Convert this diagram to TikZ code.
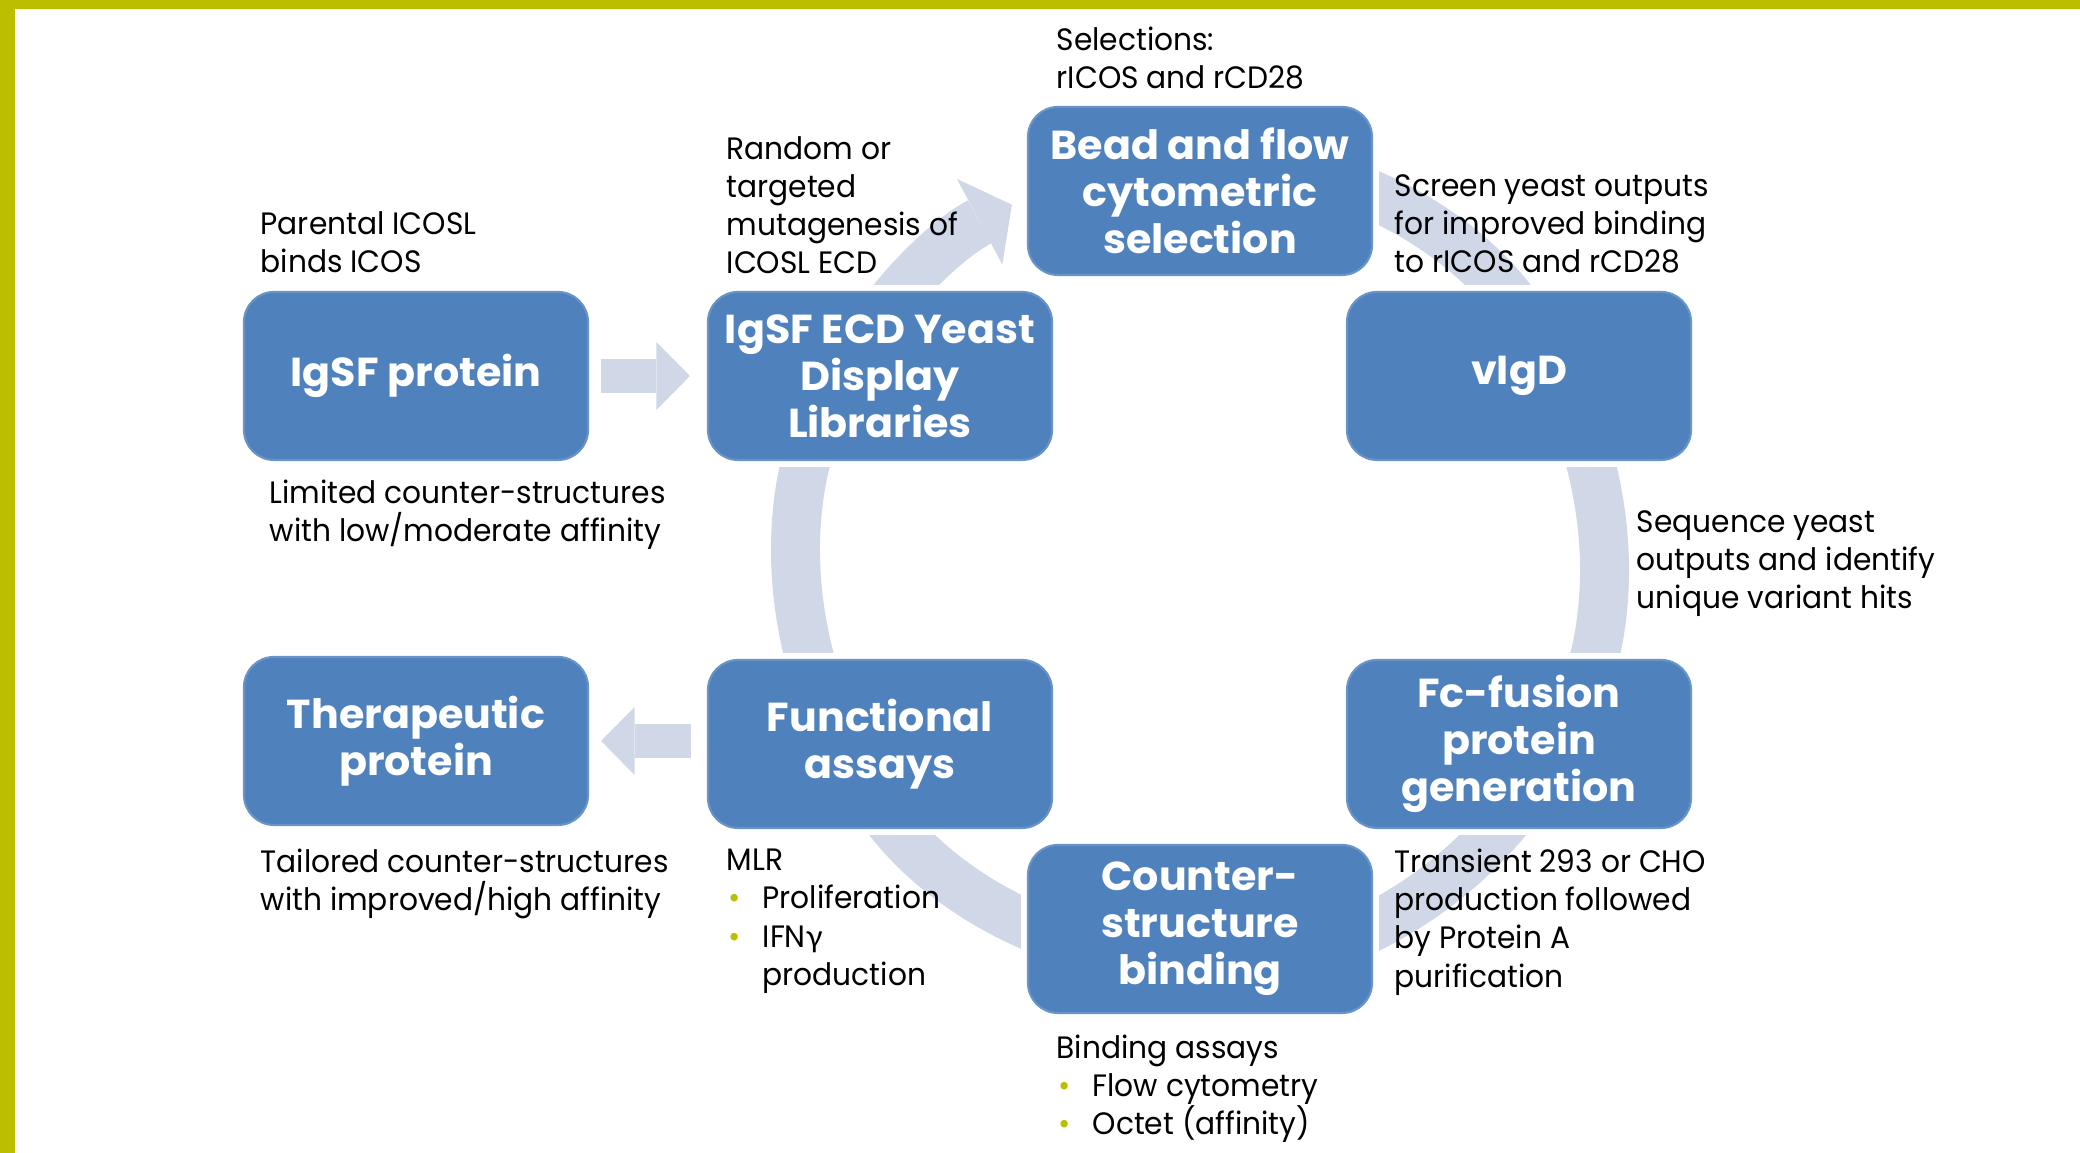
\documentclass[tikz,border=0pt]{standalone}
\usepackage{fontspec}
\setmainfont{Poppins}[FakeStretch=0.96, BoldFeatures={FakeStretch=1.02}]
\newfontfamily\greekfont{Lato}
\usetikzlibrary{calc, positioning, arrows.meta, backgrounds}
\definecolor{boxblue}{RGB}{79,129,189}
\definecolor{bandgrey}{RGB}{208,216,232}
\definecolor{frameolive}{RGB}{187,191,0}
\newcommand{\itm}{\makebox[0.36cm][l]{\hspace{0.02cm}\textcolor{frameolive}{\textbullet}}}

\begin{document}
\begin{tikzpicture}[stage/.style={fill=boxblue, draw=boxblue!85!white, line width=0.6pt, rounded corners=0.3cm, minimum width=3.44cm, minimum height=1.68cm, inner sep=2pt, align=center, text=white, font=\fontsize{11.5}{13.4}\selectfont\bfseries},note/.style={anchor=north west, align=left, inner sep=0pt, font=\fontsize{8.8}{10.85}\selectfont},band/.style={bandgrey, line width=0.49cm, -{Triangle[length=0.365cm, width=0.97cm, line width=0pt]}},block/.style={bandgrey, line width=0.34cm, -{Triangle[length=0.335cm, width=0.68cm, line width=0pt]}}]
  \useasboundingbox (0,0) rectangle (20.80,11.53);
  \fill[frameolive] (0,11.44) rectangle (20.80,11.53);
  \fill[frameolive] (0,0) rectangle (0.155,11.53);

  \coordinate (c) at (12.00,5.93);

  \node[stage] (igsf) at (4.16,7.77) {IgSF protein};
  \node[stage] (lib) at (8.80,7.77) {IgSF ECD Yeast\\Display\\Libraries};
  \node[stage] (bead) at (12.00,9.62) {Bead and flow\\cytometric\\selection};
  \node[stage] (vigd) at (15.19,7.77) {vIgD};
  \node[stage] (fc) at (15.19,4.09) {Fc-fusion\\protein\\generation};
  \node[stage] (csb) at (12.00,2.24) {Counter-\\structure\\binding};
  \node[stage] (fa) at (8.80,4.09) {Functional\\assays};
  \node[stage] (tp) at (4.16,4.12) {Therapeutic\\protein};

  \begin{scope}[on background layer]
    \draw[band] ($(c)+(150:4.02)$) arc[start angle=150, end angle=117.9, radius=4.02];
    \draw[band] ($(c)+(90:4.02)$) arc[start angle=90, end angle=30, radius=4.02];
    \draw[band] ($(c)+(30:4.02)$) arc[start angle=30, end angle=-30, radius=4.02];
    \draw[band] ($(c)+(-30:4.02)$) arc[start angle=-30, end angle=-90, radius=4.02];
    \draw[band] ($(c)+(-90:4.02)$) arc[start angle=-90, end angle=-150, radius=4.02];
    \draw[band] ($(c)+(210:4.02)$) arc[start angle=210, end angle=150, radius=4.02];
    \foreach \n in {lib,bead,vigd,fc,csb,fa}
      \fill[white] ([shift={(-0.055,-0.055)}]\n.south west) rectangle ([shift={(0.055,0.055)}]\n.north east);
  \end{scope}

  \draw[block, shorten <=0.12cm, shorten >=0.17cm] (igsf) -- (lib);
  \draw[block, shorten <=0.16cm, shorten >=0.12cm] (fa.west |- tp) -- (tp);

  \node[note] (sel) at (10.56,11.265) {Selections:\\rICOS and rCD28};
  \node[note] (mut) at (7.26,10.175) {Random or\\targeted\\mutagenesis of\\ICOSL ECD};
  \node[note] (par) at (2.60,9.425) {Parental ICOSL\\binds ICOS};
  \node[note] (scr) at (13.94,9.795) {Screen yeast outputs\\for improved binding\\to rICOS and rCD28};
  \node[note] (lim) at (2.69,6.735) {Limited counter-structures\\with low/moderate affinity};
  \node[note] (seq) at (16.36,6.435) {Sequence yeast\\outputs and identify\\unique variant hits};
  \node[note] (tai) at (2.60,3.045) {Tailored counter-structures\\with improved/high affinity};
  \node[note] (mlr) at (7.26,3.045) {MLR\\\itm Proliferation\\\itm IFN{\greekfont γ}\\\hspace{0.36cm}production};
  \node[note] (tra) at (13.94,3.045) {Transient 293 or CHO\\production followed\\by Protein A\\purification};
  \node[note] (bin) at (10.56,1.185) {Binding assays\\\itm Flow cytometry\\\itm Octet (affinity)};
\end{tikzpicture}
\end{document}
